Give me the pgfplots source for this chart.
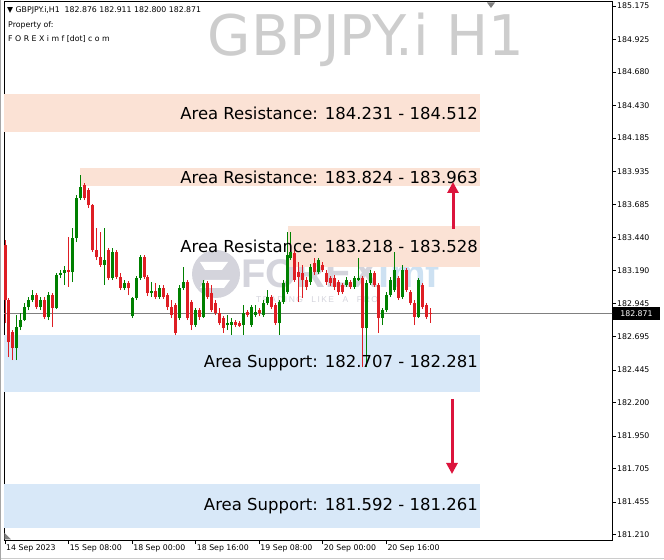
\documentclass[border=0pt]{standalone}
\usepackage{fontspec}
\setmainfont{DejaVu Sans}
\newfontfamily\arialf{Liberation Sans}
\usepackage{pgfplots}
\usepackage{pgfplotstable}
\pgfplotsset{compat=1.18}
\usetikzlibrary{arrows.meta}
\definecolor{bullc}{RGB}{0,128,0}
\definecolor{bearc}{RGB}{222,30,36}
\definecolor{resz}{RGB}{251,226,213}
\definecolor{supz}{RGB}{216,232,248}
\definecolor{arrowc}{RGB}{220,20,60}
\definecolor{wm}{RGB}{205,205,205}
\definecolor{logog}{RGB}{212,212,220}
\definecolor{logob}{RGB}{205,225,242}

\pgfplotstableread{
i O H L C
3 182.610 182.858 182.520 182.768
4 182.768 182.873 182.745 182.820
5 182.820 182.948 182.813 182.918
6 182.918 182.993 182.895 182.970
7 182.970 183.045 182.955 183.008
9 182.918 182.993 182.895 182.970
11 182.843 183.030 182.820 183.008
13 182.910 183.173 182.903 183.158
14 183.158 183.195 183.135 183.173
15 183.173 183.225 183.083 183.195
17 183.180 183.510 183.105 183.435
18 183.435 183.758 183.405 183.735
19 183.735 183.908 183.720 183.818
25 183.233 183.510 183.083 183.270
27 183.135 183.360 183.120 183.330
30 183.060 183.120 183.045 183.098
32 182.850 182.993 182.835 182.985
33 182.985 183.150 182.970 183.135
34 183.135 183.308 183.120 183.293
37 183.023 183.105 182.993 183.038
39 182.993 183.083 182.978 183.060
44 182.835 183.083 182.820 183.060
45 183.060 183.218 183.045 183.105
48 182.783 182.910 182.768 182.895
50 182.843 183.120 182.835 183.098
56 182.783 182.858 182.745 182.798
57 182.783 182.835 182.708 182.805
60 182.783 182.933 182.708 182.873
62 182.783 182.933 182.768 182.918
63 182.858 182.933 182.843 182.880
65 182.858 182.970 182.843 182.948
66 182.948 183.045 182.933 182.993
69 182.798 182.970 182.708 182.955
70 182.955 183.120 182.940 183.098
71 183.030 183.480 183.015 183.308
72 183.285 183.480 183.270 183.330
77 183.105 183.240 183.083 183.218
79 183.180 183.285 183.165 183.270
86 183.083 183.143 183.068 183.120
88 183.068 183.150 183.053 183.135
89 183.120 183.285 183.113 183.135
91 182.760 183.120 182.468 183.098
92 183.098 183.195 183.083 183.173
95 182.835 182.910 182.783 182.895
96 182.895 183.030 182.880 183.008
97 183.008 183.143 182.993 183.120
98 183.045 183.330 183.030 183.195
100 182.993 183.233 182.978 183.195
104 182.843 183.135 182.835 183.120
}\bull

\pgfplotstableread{
i O H L C
0 183.383 183.420 182.798 182.970
1 182.970 182.985 182.543 182.655
2 182.730 182.745 182.520 182.610
8 183.008 183.023 182.903 182.918
10 182.970 182.993 182.828 182.843
12 183.008 183.023 182.768 182.910
16 183.195 183.443 183.068 183.180
20 183.833 183.848 183.720 183.735
21 183.795 183.810 183.660 183.683
22 183.683 183.690 183.330 183.345
23 183.345 183.510 183.270 183.293
24 183.293 183.480 183.218 183.233
26 183.345 183.360 183.120 183.135
28 183.330 183.345 183.128 183.143
29 183.143 183.173 183.045 183.060
31 183.098 183.113 183.008 183.060
35 183.293 183.308 183.128 183.143
36 183.143 183.158 183.000 183.023
38 183.038 183.098 182.978 182.993
40 183.060 183.083 182.978 182.993
41 183.008 183.023 182.895 182.918
42 182.918 182.970 182.835 182.858
43 182.933 182.948 182.708 182.723
46 183.105 183.120 182.820 182.835
47 182.955 182.970 182.745 182.783
49 182.895 182.910 182.820 182.843
51 183.098 183.113 182.978 182.993
52 183.023 183.083 182.880 182.895
53 182.948 182.970 182.858 182.873
54 182.873 182.910 182.783 182.798
55 182.835 182.850 182.723 182.760
58 182.805 182.820 182.768 182.783
59 182.798 182.813 182.768 182.775
61 182.880 182.895 182.843 182.858
64 182.895 182.910 182.850 182.873
67 182.993 183.008 182.903 182.918
68 182.933 182.948 182.783 182.798
73 183.323 183.345 183.105 183.120
74 183.180 183.255 182.955 183.143
75 183.173 183.233 182.985 183.120
76 183.120 183.143 183.045 183.068
78 183.248 183.285 183.158 183.180
80 183.233 183.255 183.180 183.195
81 183.173 183.195 183.083 183.105
82 183.135 183.150 183.075 183.098
83 183.135 183.158 183.045 183.068
84 183.105 183.120 183.008 183.030
85 183.083 183.098 183.015 183.030
87 183.105 183.120 183.053 183.068
90 183.135 183.150 182.468 182.760
93 183.173 183.188 183.068 183.083
94 183.083 183.098 182.723 182.835
99 183.135 183.150 182.970 182.985
101 183.195 183.210 183.030 183.045
102 183.030 183.045 182.933 182.948
103 182.948 182.970 182.783 182.843
105 183.083 183.098 182.903 182.918
106 182.933 182.948 182.828 182.843
107 182.876 182.911 182.800 182.871
}\bear

\newcommand{\smallf}{\fontsize{7.8bp}{9bp}\selectfont}
\newcommand{\zonefont}{\fontsize{16.5bp}{19bp}\selectfont}

\begin{document}
\begin{tikzpicture}
% faint logo behind everything (pixel coordinates)
\begin{scope}[x=1bp, y=-1bp, shift={(-4bp,540bp)}]
  \fill[logog] (216,274) circle (24);
  \fill[white] (200,262) -- (228,262) -- (222,270) -- (205,270) -- cycle;
  \fill[white] (205,280) -- (230,280) -- (224,288) -- (200,288) -- cycle;
  \node[anchor=base west, inner sep=0, text=logog, font=\arialf\bfseries\fontsize{40bp}{40bp}\selectfont] at (241,288) {FOREX\textcolor{logob}{imf}};
  \node[anchor=base west, inner sep=0, text=logog, font=\arialf\fontsize{8.5bp}{9bp}\selectfont] at (256,303) {T\,R\,A\,D\,I\,N\,G\quad L\,I\,K\,E\quad A\quad P\,R\,O};
\end{scope}

\begin{axis}[
  scale only axis, width=608bp, height=538bp,
  xmin=-0.252, xmax=152.82, ymin=181.171, ymax=185.205,
  axis line style={line width=1bp, black},
  tick align=outside, major tick length=4bp,
  tick style={line width=0.8bp, black},
  xtick={0,16,32,48,64,80,96},
  xticklabels={14 Sep 2023, 15 Sep 08:00, 18 Sep 00:00, 18 Sep 16:00, 19 Sep 08:00, 20 Sep 00:00, 20 Sep 16:00},
  xtick pos=bottom, ytick pos=right, yticklabel pos=right,
  ytick={185.175,184.925,184.680,184.430,184.185,183.935,183.685,183.440,183.190,182.945,182.695,182.445,182.200,181.950,181.705,181.455,181.210},
  yticklabels={185.175,184.925,184.680,184.430,184.185,183.935,183.685,183.440,183.190,182.945,182.695,182.445,182.200,181.950,181.705,181.455,181.210},
  ticklabel style={font=\smallf},
  xticklabel style={anchor=north west, inner sep=1bp},
  yticklabel style={anchor=west, inner sep=1bp},
  clip=true,
  candle/.style={only marks, mark=*, mark options={draw opacity=0, fill opacity=0},
    error bars/.cd, y dir=plus, y explicit, error mark=none},
]
% zones
\fill[resz] (axis cs:-1,184.231) rectangle (axis cs:119.6,184.512);
\fill[resz] (axis cs:18.9,183.824) rectangle (axis cs:119.6,183.963);
\fill[resz] (axis cs:71.25,183.218) rectangle (axis cs:119.6,183.528);
\fill[supz] (axis cs:-1,182.281) rectangle (axis cs:119.6,182.707);
\fill[supz] (axis cs:-1,181.261) rectangle (axis cs:119.6,181.592);
% price line
\draw[gray, line width=0.8bp] (axis cs:-1,182.871) -- (axis cs:160,182.871);
% wicks
\addplot[candle, error bar style={line width=1bp, bullc}]
  table[x=i, y=L, y error plus expr=\thisrow{H}-\thisrow{L}] {\bull};
\addplot[candle, error bar style={line width=1bp, bearc}]
  table[x=i, y=L, y error plus expr=\thisrow{H}-\thisrow{L}] {\bear};
% bodies
\addplot[candle, error bar style={line width=3bp, bullc}]
  table[x=i, y=O, y error plus expr=\thisrow{C}-\thisrow{O}] {\bull};
\addplot[candle, error bar style={line width=3bp, bearc}]
  table[x=i, y=C, y error plus expr=\thisrow{O}-\thisrow{C}] {\bear};
% zone labels
\node[anchor=east, inner sep=0, font=\zonefont] at (axis cs:119.1,184.3715) {Area Resistance: 184.231 - 184.512};
\node[anchor=east, inner sep=0, font=\zonefont] at (axis cs:119.1,183.8935) {Area Resistance: 183.824 - 183.963};
\node[anchor=east, inner sep=0, font=\zonefont] at (axis cs:119.1,183.373) {Area Resistance: 183.218 - 183.528};
\node[anchor=east, inner sep=0, font=\zonefont] at (axis cs:119.1,182.494) {Area Support: 182.707 - 182.281};
\node[anchor=east, inner sep=0, font=\zonefont] at (axis cs:119.1,181.4265) {Area Support: 181.592 - 181.261};
\end{axis}

% overlays in pixel coordinates
\begin{scope}[x=1bp, y=-1bp, shift={(-4bp,540bp)}]
  \node[anchor=west, inner sep=0, font=\smallf] at (7,10) {▼ GBPJPY.i,H1\ \ 182.876 182.911 182.800 182.871};
  \node[anchor=west, inner sep=0, font=\smallf] at (8,25) {Property of:};
  \node[anchor=west, inner sep=0, font=\smallf] at (8,39) {F O R E X i m f [dot] c o m};
  \node[anchor=center, inner sep=0, text=wm, font=\fontsize{56bp}{60bp}\selectfont] at (366,40) {GBPJPY.i H1};
  \draw[arrowc, line width=3bp, -{Triangle[width=11bp,length=11bp]}] (453,229) -- (453,182);
  \draw[arrowc, line width=3bp, -{Triangle[width=11bp,length=11bp]}] (452,399) -- (452,474);
  \fill[black] (613,307) rectangle (660,320);
  \node[inner sep=0, text=white, font=\smallf] at (636.5,313.5) {182.871};
  \fill[gray] (487,2.5) -- (495,2.5) -- (491,8) -- cycle;
  \fill[gray] (4.5,533) -- (4.5,539.5) -- (11,539.5) -- cycle;
  \draw[gray!40, line width=0.8bp] (0,558.5) -- (664,558.5);
  \draw[gray!70, line width=0.8bp] (0.5,0) -- (0.5,560);
\end{scope}
\pgfresetboundingbox
\path[use as bounding box] (-4bp,-20bp) rectangle (660bp,540bp);
\end{tikzpicture}
\end{document}
